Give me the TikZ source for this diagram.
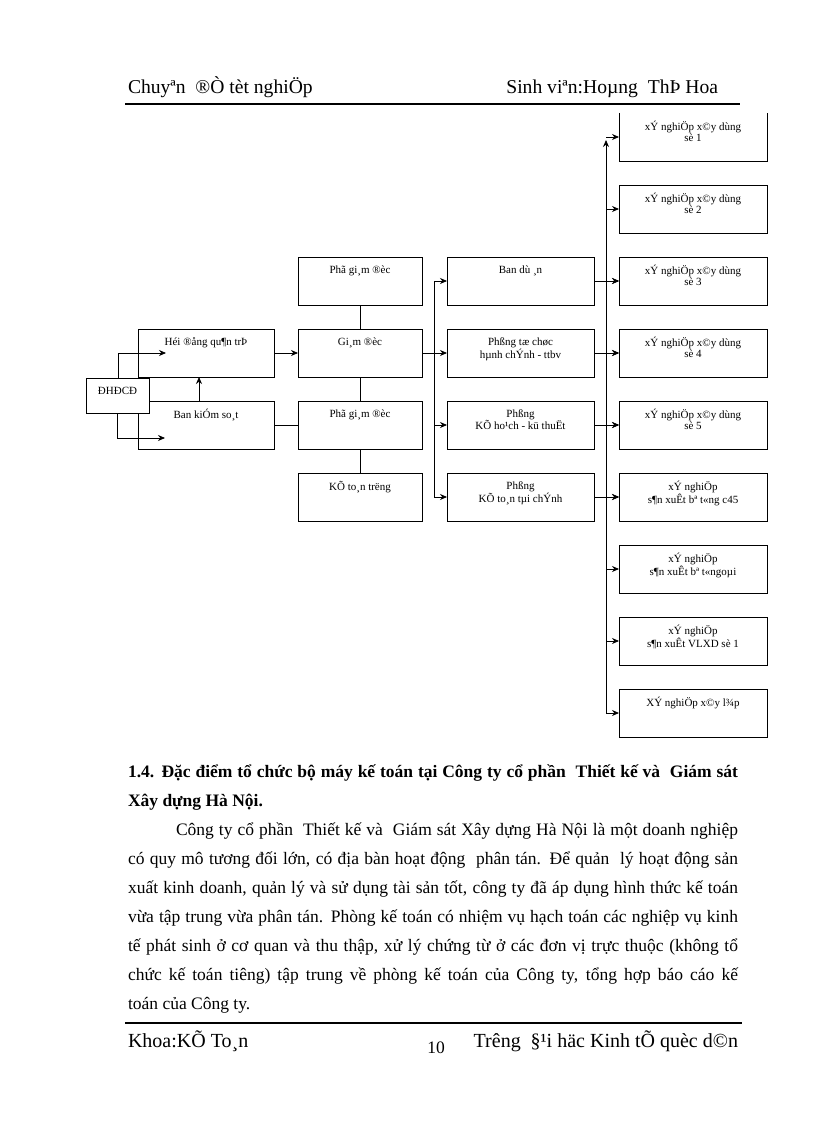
\documentclass[tikz,border=0pt]{standalone}
\usepackage{fontspec}
\setmainfont{Liberation Serif}
\usetikzlibrary{arrows.meta}
\begin{document}
\begin{tikzpicture}[x=1pt,y=-1pt,
  every node/.style={inner sep=0pt, outer sep=0pt},
  cbox/.style={draw, line width=0.9pt, anchor=north west, minimum height=48pt},
  c1/.style={cbox, minimum width=136pt},
  c2/.style={cbox, minimum width=124pt},
  c3/.style={cbox, minimum width=147pt},
  c4/.style={cbox, minimum width=148pt},
  lbl/.style={font=\fontsize{11}{11}\selectfont, align=center, inner sep=0pt},
  txt/.style={label={[lbl, anchor=north, yshift=-8.5pt]north:{#1}}},
  arr/.style={-{Stealth[length=7pt,width=6pt]}, line width=0.8pt},
  ln/.style={line width=0.8pt},
  body/.style={font=\fontsize{17.5}{20}\selectfont, anchor=base west},
  bbody/.style={font=\bfseries\fontsize{17.5}{20}\selectfont, anchor=base west}
]
\fill[white] (0,0) rectangle (816,1123);
\useasboundingbox (0,0) rectangle (816,1123);

% header
\node[anchor=base west, font=\fontsize{19.6}{22}\selectfont] (h1) at (128,94) {Chuyªn\ \ ®Ò tèt nghiÖp};
\node[anchor=base east, font=\fontsize{19.6}{22}\selectfont] (h2) at (718,94) {Sinh viªn:Hoµng\ \ ThÞ Hoa};
\coordinate (hl1) at (125,104);
\coordinate (hl2) at (740,104);
\draw[line width=1.4pt] (hl1) -- (hl2);

% column 1
\node[c1, txt={Héi ®ång qu¶n trÞ}] (hoi) at (138,329) {};
\node[c1, txt={Ban kiÓm so¸t}] (bks) at (138,401) {};
\node[draw, fill=white, line width=0.9pt, anchor=north west, minimum width=63pt, minimum height=35pt,
      label={[lbl, yshift=5pt]center:{ĐHĐCĐ}}] (dh) at (86,378) {};

% column 2
\node[c2, txt={Phã gi¸m ®èc}] (pg1) at (298,257) {};
\node[c2, txt={Gi¸m ®èc}] (gd) at (298,329) {};
\node[c2, txt={Phã gi¸m ®èc}] (pg2) at (298,401) {};
\node[c2, txt={KÕ to¸n trëng}] (ktt) at (298,473) {};

% column 3
\node[c3, txt={Ban dù ¸n}] (bd) at (447,257) {};
\node[c3, txt={Phßng tæ chøc\\hµnh chÝnh - ttbv}] (tc) at (447,329) {};
\node[c3, txt={Phßng\\KÕ ho¹ch - kü thuËt}] (kh) at (447,401) {};
\node[c3, txt={Phßng\\KÕ to¸n tµi chÝnh}] (kt) at (447,473) {};

% column 4
\node[c4, draw=none, txt={xÝ nghiÖp x©y dùng\\sè 1}] (x1) at (619,113) {};
\draw[ln] (x1.north west) -- (x1.south west) -- (x1.south east) -- (x1.north east);
\node[c4, txt={xÝ nghiÖp x©y dùng\\sè 2}] (x2) at (619,185) {};
\node[c4, txt={xÝ nghiÖp x©y dùng\\sè 3}] (x3) at (619,257) {};
\node[c4, txt={xÝ nghiÖp x©y dùng\\sè 4}] (x4) at (619,329) {};
\node[c4, txt={xÝ nghiÖp x©y dùng\\sè 5}] (x5) at (619,401) {};
\node[c4, txt={xÝ nghiÖp\\s¶n xuÊt bª t«ng c45}] (x6) at (619,473) {};
\node[c4, txt={xÝ nghiÖp\\s¶n xuÊt bª t«ngoµi}] (x7) at (619,545) {};
\node[c4, txt={xÝ nghiÖp\\s¶n xuÊt VLXD sè 1}] (x8) at (619,617) {};
\node[c4, txt={XÝ nghiÖp x©y l¾p}] (x9) at (619,689) {};

% connectors, left part
\coordinate (p1) at (118,353);
\coordinate (p1e) at (166,353);
\draw[arr] (dh.north -| p1) -- (p1) -- (p1e);
\coordinate (p2) at (117,438);
\coordinate (p2e) at (165,438);
\draw[arr] (dh.south -| p2) -- (p2) -- (p2e);
\coordinate (p3) at (199,401);
\draw[arr] (p3) -- (hoi.south -| p3);
\draw[arr] (hoi.east) -- (gd.west);
\draw[ln] (bks.east) -- (pg2.west);
\draw[ln] (pg1.south) -- (gd.north);
\draw[ln] (gd.south) -- (pg2.north);
\draw[ln] (pg2.south) -- (ktt.north);

% left bus
\coordinate (lbt) at (434,281);
\coordinate (lbb) at (434,497);
\draw[ln] (lbt) -- (lbb);
\draw[ln] (gd.east) -- (gd.east -| lbt);
\draw[arr] (bd.west -| lbt) -- (bd.west);
\draw[arr] (tc.west -| lbt) -- (tc.west);
\draw[arr] (kh.west -| lbt) -- (kh.west);
\draw[arr] (kt.west -| lbt) -- (kt.west);

% column 3 to column 4
\draw[arr] (bd.east) -- (x3.west);
\draw[arr] (tc.east) -- (x4.west);
\draw[arr] (kh.east) -- (x5.west);
\draw[arr] (kt.east) -- (x6.west);

% right bus
\coordinate (rbt) at (606,140);
\coordinate (rbb) at (606,713);
\draw[arr] (rbb) -- (rbt);
\draw[arr] (x1.west -| rbb) -- (x1.west);
\draw[arr] (x2.west -| rbb) -- (x2.west);
\draw[arr] (x3.west -| rbb) -- (x3.west);
\draw[arr] (x4.west -| rbb) -- (x4.west);
\draw[arr] (x5.west -| rbb) -- (x5.west);
\draw[arr] (x6.west -| rbb) -- (x6.west);
\draw[arr] (x7.west -| rbb) -- (x7.west);
\draw[arr] (x8.west -| rbb) -- (x8.west);
\draw[arr] (rbb) -- (x9.west);

% text
\node[bbody] (t1) at (128,777) {\makebox[610pt][s]{1.4. Đặc điểm tổ chức bộ máy kế toán tại Công ty cổ phần\ \ Thiết kế và\ \ Giám sát}};
\node[bbody] (t2) at (128,806) {Xây dựng Hà Nội.};
\node[body] (t3) at (176,835) {\makebox[562pt][s]{Công ty cổ phần\ \ Thiết kế và\ \ Giám sát Xây dựng Hà Nội là một doanh nghiệp}};
\node[body] (t4) at (128,864) {\makebox[610pt][s]{có quy mô tương đối lớn, có địa bàn hoạt động\ \ phân tán. Để quản\ \ lý hoạt động sản}};
\node[body] (t5) at (128,893) {\makebox[610pt][s]{xuất kinh doanh, quản lý và sử dụng tài sản tốt, công ty đã áp dụng hình thức kế toán}};
\node[body] (t6) at (128,922) {\makebox[610pt][s]{vừa tập trung vừa phân tán. Phòng kế toán có nhiệm vụ hạch toán các nghiệp vụ kinh}};
\node[body] (t7) at (128,951) {\makebox[610pt][s]{tế phát sinh ở cơ quan và thu thập, xử lý chứng từ ở các đơn vị trực thuộc (không tổ}};
\node[body] (t8) at (128,980) {\makebox[610pt][s]{chức kế toán tiêng) tập trung về phòng kế toán của Công ty, tổng hợp báo cáo kế}};
\node[body] (t9) at (128,1009) {toán của Công ty.};

% footer
\coordinate (fl1) at (125,1023);
\coordinate (fl2) at (742,1023);
\draw[line width=2.2pt] (fl1) -- (fl2);
\node[anchor=base west, font=\fontsize{20}{22}\selectfont] (f1) at (128,1047) {Khoa:KÕ To¸n};
\node[anchor=base, font=\fontsize{17.5}{20}\selectfont] (f2) at (436,1053) {10};
\node[anchor=base east, font=\fontsize{20}{22}\selectfont] (f3) at (738,1047) {Trêng\ \ §¹i häc Kinh tÕ quèc d©n};
\end{tikzpicture}
\end{document}
